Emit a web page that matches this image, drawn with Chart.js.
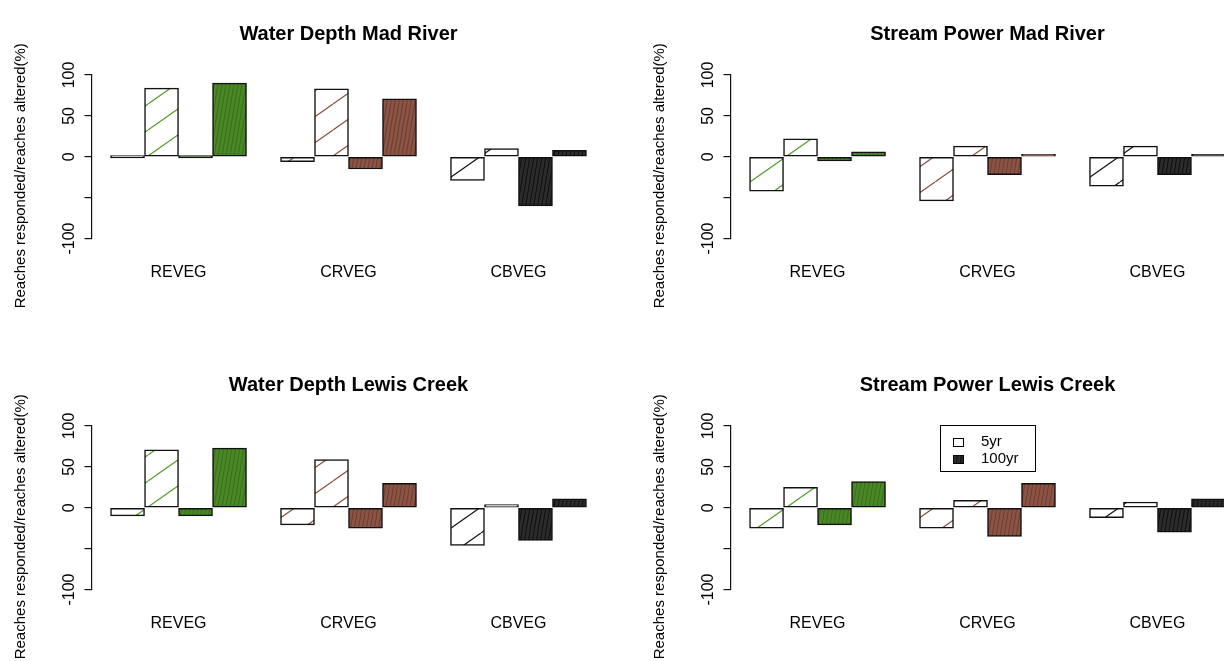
<!DOCTYPE html>
<html>
<head>
<meta charset="utf-8">
<title>Reaches responded / reaches altered</title>
<script src="https://cdn.jsdelivr.net/npm/chart.js@4.4.1/dist/chart.umd.min.js"></script>
<style>
    html, body { margin: 0; padding: 0; background: #fff; overflow: hidden; }
    body { width: 1224px; height: 661px; position: relative; }
    .panel { position: absolute; width: 640px; height: 351px; }
</style>
</head>
<body>
<div class="panel" style="left:0;top:0"><canvas id="depthMad" width="640" height="351"></canvas></div>
<div class="panel" style="left:639px;top:0"><canvas id="powerMad" width="640" height="351"></canvas></div>
<div class="panel" style="left:0;top:351px"><canvas id="depthLewis" width="640" height="351"></canvas></div>
<div class="panel" style="left:639px;top:351px"><canvas id="powerLewis" width="640" height="351"></canvas></div>
<script>
const categories = ['REVEG', 'CRVEG', 'CBVEG'];
const legendLabels = ['5yr', '100yr'];
const yTicks = [-100, -50, 0, 50, 100];
const yTitle = 'Reaches responded/reaches altered(%)';

// Water Depth Mad River
const depthMadDown5yr = [0, -6, -29];
const depthMadUp5yr = [84, 83, 10];
const depthMadDown100yr = [0, -15, -60];
const depthMadUp100yr = [90, 71, 8];

// Stream Power Mad River
const powerMadDown5yr = [-42, -54, -36];
const powerMadUp5yr = [22, 13, 13];
const powerMadDown100yr = [-5, -22, -22];
const powerMadUp100yr = [6, 3, 1];

// Water Depth Lewis Creek
const depthLewisDown5yr = [-10, -21, -46];
const depthLewisUp5yr = [71, 59, 4];
const depthLewisDown100yr = [-10, -25, -40];
const depthLewisUp100yr = [73, 30, 11];

// Stream Power Lewis Creek
const powerLewisDown5yr = [-25, -25, -12];
const powerLewisUp5yr = [25, 9, 7];
const powerLewisDown100yr = [-21, -35, -30];
const powerLewisUp100yr = [32, 30, 11];

const panels = [
    { id: 'depthMad', title: 'Water Depth Mad River', down5: depthMadDown5yr, up5: depthMadUp5yr, down100: depthMadDown100yr, up100: depthMadUp100yr, legend: false },
    { id: 'powerMad', title: 'Stream Power Mad River', down5: powerMadDown5yr, up5: powerMadUp5yr, down100: powerMadDown100yr, up100: powerMadUp100yr, legend: false },
    { id: 'depthLewis', title: 'Water Depth Lewis Creek', down5: depthLewisDown5yr, up5: depthLewisUp5yr, down100: depthLewisDown100yr, up100: depthLewisUp100yr, legend: false },
    { id: 'powerLewis', title: 'Stream Power Lewis Creek', down5: powerLewisDown5yr, up5: powerLewisUp5yr, down100: powerLewisDown100yr, up100: powerLewisUp100yr, legend: true }
];

// group colours: hatch line for 5yr, fill + stripe for 100yr
const hatchColors = ['#4f9b2c', '#8a4d3e', '#111111'];
const fillColors = ['#4a8826', '#8b5445', '#2c2c2c'];
const stripeColors = ['#3a6c1d', '#6c3e33', '#0e0e0e'];

// bars sit on a linear axis like R's barplot(space = c(0, 1))
const groupCenters = categories.map((c, g) => g * 5 + 3);

const FONT = "'Liberation Sans', Arial, Helvetica, sans-serif";
Chart.defaults.font.family = FONT;
Chart.defaults.color = '#000';

function makeHatch(lineColor, bgColor, w, h, lineWidth) {
    const tile = document.createElement('canvas');
    tile.width = w;
    tile.height = h;
    const c = tile.getContext('2d');
    c.fillStyle = bgColor;
    c.fillRect(0, 0, w, h);
    c.strokeStyle = lineColor;
    c.lineWidth = lineWidth;
    c.beginPath();
    for (const dx of [-w, 0, w]) {
        c.moveTo(dx, h);
        c.lineTo(dx + w, 0);
    }
    c.stroke();
    return c.createPattern(tile, 'repeat');
}

const lightPatterns = hatchColors.map(col => makeHatch(col, '#ffffff', 37, 26, 1.2));
const densePatterns = fillColors.map((col, i) => makeHatch(stripeColors[i], col, 4, 24, 1));

// y label sits a little below the plot centre in the original, so draw it here
const yLabel = {
    id: 'yLabel',
    afterDraw(chart) {
        const { ctx, chartArea } = chart;
        ctx.save();
        ctx.translate(21, (chartArea.top + chartArea.bottom) / 2 + 19);
        ctx.rotate(-Math.PI / 2);
        ctx.font = '15px ' + FONT;
        ctx.fillStyle = '#000';
        ctx.textAlign = 'center';
        ctx.textBaseline = 'middle';
        ctx.fillText(yTitle, 0, 0);
        ctx.restore();
    }
};

// Legend box drawn at the top centre of the plot, like legend("top")
const rLegend = {
    id: 'rLegend',
    afterDraw(chart, args, opts) {
        if (!opts.show) return;
        const { ctx, chartArea } = chart;
        const w = 95, h = 46;
        const left = Math.round((chartArea.left + chartArea.right) / 2 - w / 2);
        const top = Math.round(chartArea.top - 1);
        ctx.save();
        ctx.fillStyle = '#fff';
        ctx.fillRect(left, top, w, h);
        ctx.strokeStyle = '#000';
        ctx.lineWidth = 1;
        ctx.strokeRect(left + 0.5, top + 0.5, w, h);
        const keys = ['#ffffff', densePatterns[2]];
        ctx.font = '15px ' + FONT;
        ctx.textBaseline = 'middle';
        legendLabels.forEach((label, i) => {
            const cy = top + 17 + i * 17;
            ctx.fillStyle = keys[i];
            ctx.fillRect(left + 13, cy - 4, 11, 9);
            ctx.strokeRect(left + 13.5, cy - 3.5, 10, 8);
            ctx.fillStyle = '#000';
            ctx.fillText(label, left + 41, cy);
        });
        ctx.restore();
    }
};

function buildDatasets(p) {
    const d5 = [], c5 = [], d100 = [], c100 = [];
    categories.forEach((cat, g) => {
        d5.push({ x: g * 5 + 1.5, y: p.down5[g] }, { x: g * 5 + 2.5, y: p.up5[g] });
        c5.push(lightPatterns[g], lightPatterns[g]);
        d100.push({ x: g * 5 + 3.5, y: p.down100[g] }, { x: g * 5 + 4.5, y: p.up100[g] });
        c100.push(densePatterns[g], densePatterns[g]);
    });
    const common = {
        grouped: false,
        categoryPercentage: 1,
        barPercentage: 1,
        minBarLength: 2.5,
        borderSkipped: false,
        borderColor: '#111',
        borderWidth: 1.5
    };
    return [
        Object.assign({ label: legendLabels[0], data: d5, backgroundColor: c5 }, common),
        Object.assign({ label: legendLabels[1], data: d100, backgroundColor: c100 }, common)
    ];
}

function drawPanel(p) {
    const ctx = document.getElementById(p.id).getContext('2d');
    new Chart(ctx, {
        type: 'bar',
        data: { datasets: buildDatasets(p) },
        plugins: [rLegend, yLabel],
        options: {
            responsive: false,
            animation: false,
            events: [],
            layout: { padding: { left: 0, right: 34.5, top: 0, bottom: 0 } },
            plugins: {
                legend: { display: false },
                tooltip: { enabled: false },
                title: {
                    display: true,
                    text: p.title,
                    fullSize: false,
                    color: '#000',
                    font: { size: 20, weight: 'bold' },
                    padding: { top: 22, bottom: 29 }
                },
                rLegend: { show: p.legend }
            },
            scales: {
                x: {
                    type: 'linear',
                    min: 0.44,
                    max: 15.56,
                    offset: false,
                    grid: { display: false, drawTicks: false, offset: false },
                    border: { display: false },
                    afterBuildTicks: scale => { scale.ticks = groupCenters.map(v => ({ value: v })); },
                    afterFit: scale => { scale.height = 112.5; },
                    ticks: {
                        autoSkip: false,
                        maxRotation: 0,
                        padding: 24,
                        font: { size: 16 },
                        callback: v => categories[groupCenters.indexOf(v)]
                    }
                },
                y: {
                    min: -100,
                    max: 100,
                    afterBuildTicks: scale => { scale.ticks = yTicks.map(v => ({ value: v })); },
                    afterFit: scale => { scale.width = 91.5; },
                    border: { display: true, color: '#111', width: 1.2 },
                    grid: { drawOnChartArea: false, drawTicks: true, tickLength: 7, color: '#111', lineWidth: 1.2 },
                    ticks: {
                        autoSkip: false,
                        minRotation: 90,
                        maxRotation: 90,
                        crossAlign: 'center',
                        padding: -1.5,
                        font: { size: 16 },
                        // R drops the -50 label where it would crowd
                        callback: v => (v === -50 ? '' : String(v))
                    }
                }
            }
        }
    });
}

document.addEventListener('DOMContentLoaded', () => {
    panels.forEach(drawPanel);
});
</script>
</body>
</html>
